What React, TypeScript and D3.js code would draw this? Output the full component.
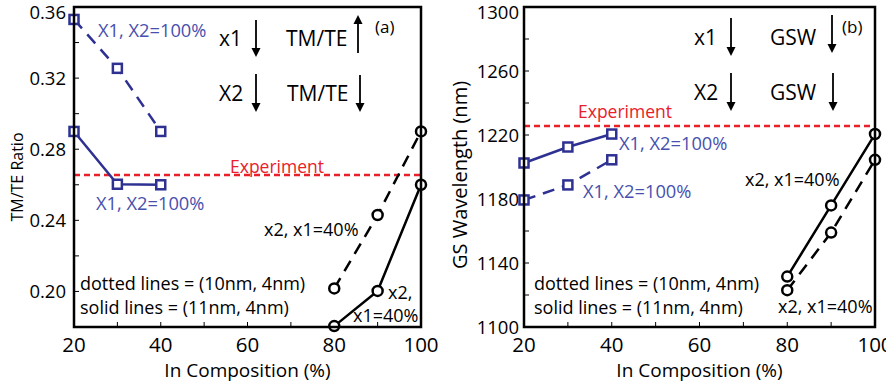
import React from "react";
import * as d3 from "d3";

const xValsLow = [20, 30, 40];
const xValsHigh = [80, 90, 100];

// Panel (a): TM/TE ratio
const aBlueDashed = [0.353, 0.3255, 0.29];
const aBlueSolid = [0.29, 0.2603, 0.26];
const aBlackDashed = [0.2017, 0.243, 0.29];
const aBlackSolid = [0.1805, 0.2003, 0.26];
const aExperiment = 0.2655;
const aYTicks = [0.2, 0.24, 0.28, 0.32, 0.36];
const aYMinor = [0.18, 0.22, 0.26, 0.3, 0.34];

// Panel (b): GS wavelength
const bBlueSolid = [1202.5, 1212.5, 1220.6];
const bBlueDashed = [1179.4, 1188.8, 1204.5];
const bBlackSolid = [1131.5, 1176, 1220.6];
const bBlackDashed = [1123, 1159, 1204.5];
const bExperiment = 1225.6;
const bYTicks = [1100, 1140, 1180, 1220, 1260, 1300];
const bYMinor = [1120, 1160, 1200, 1240, 1280];

const xTicks = [20, 40, 60, 80, 100];
const xMinor = [30, 50, 70, 90];

const BLUE = "#2e3192";
const BLUE_TEXT = "#4750ae";
const RED = "#e8202a";
const FONT = "'Open Sans', 'Noto Sans', sans-serif";

type Pt = [number, number];

function Arrow({ x, y1, y2 }: { x: number; y1: number; y2: number }) {
  const up = y2 < y1;
  const h = 9;
  const w = 4.5;
  const tipY = y2;
  const baseY = up ? y2 + h : y2 - h;
  return (
    <g>
      <line x1={x} y1={y1} x2={x} y2={baseY} stroke="#000" strokeWidth={1.8} />
      <path d={`M${x - w},${baseY} L${x},${tipY} L${x + w},${baseY} Z`} fill="#000" />
    </g>
  );
}

function Panel(props: {
  x0: number; x1: number; y0: number; y1: number;
  yDomain: [number, number];
  yTicks: number[]; yMinor: number[]; yFmt: (v: number) => string; yTickGap: number;
  blueSolid: number[]; blueDashed: number[]; blackSolid: number[]; blackDashed: number[];
  experiment: number;
  yLabel: string; yLabelX: number; yLabelY: number; yLabelSize: number;
  children?: React.ReactNode;
}) {
  const { x0, x1, y0, y1 } = props;
  const x = d3.scaleLinear().domain([20, 100]).range([x0, x1]);
  const y = d3.scaleLinear().domain(props.yDomain).range([y1, y0]);
  const line = d3.line<Pt>().x((d) => x(d[0])).y((d) => y(d[1]));
  const pts = (xs: number[], ys: number[]): Pt[] => xs.map((v, i) => [v, ys[i]]);
  const series = [
    { xs: xValsLow, ys: props.blueDashed, color: BLUE, dash: "12,8", shape: "sq" },
    { xs: xValsLow, ys: props.blueSolid, color: BLUE, dash: "none", shape: "sq" },
    { xs: xValsHigh, ys: props.blackDashed, color: "#000", dash: "12,8", shape: "ci" },
    { xs: xValsHigh, ys: props.blackSolid, color: "#000", dash: "none", shape: "ci" },
  ];
  return (
    <g>
      {props.yTicks.concat(props.yMinor).map((t) => (
        <line key={"yt" + t} x1={x0} x2={x0 + 5} y1={y(t)} y2={y(t)} stroke="#000" strokeWidth={1} />
      ))}
      {xTicks.concat(xMinor).map((t) => (
        <line key={"xt" + t} x1={x(t)} x2={x(t)} y1={y1} y2={y1 - 5} stroke="#000" strokeWidth={1} />
      ))}
      {props.yTicks.map((t) => (
        <text key={"yl" + t} x={x0 - props.yTickGap} y={Math.max(y(t), 12) + 6.5} textAnchor="end" fontSize={18.5} fontFamily={FONT}>
          {props.yFmt(t)}
        </text>
      ))}
      {xTicks.map((t) => (
        <text key={"xl" + t} x={x(t)} y={y1 + 25} textAnchor="middle" fontSize={20.5} fontFamily={FONT}>
          {t}
        </text>
      ))}
      <text x={(x0 + x1) / 2} y={y1 + 50} textAnchor="middle" fontSize={19} fontFamily={FONT}>
        In Composition (%)
      </text>
      <text
        transform={`translate(${props.yLabelX},${props.yLabelY}) rotate(-90)`}
        textAnchor="middle"
        fontSize={props.yLabelSize}
        fontFamily={FONT}
      >
        {props.yLabel}
      </text>
      <line x1={x0} x2={x1} y1={y(props.experiment)} y2={y(props.experiment)} stroke={RED} strokeWidth={2.5} strokeDasharray="6,4" />
      {series.map((s, i) => (
        <path key={"s" + i} d={line(pts(s.xs, s.ys)) || ""} fill="none" stroke={s.color} strokeWidth={2.5} strokeDasharray={s.dash} />
      ))}
      {series.map((s, i) =>
        pts(s.xs, s.ys).map((p, j) =>
          s.shape === "sq" ? (
            <rect key={"m" + i + "-" + j} x={x(p[0]) - 4.5} y={y(p[1]) - 4.5} width={9} height={9} fill="#fff" stroke={s.color} strokeWidth={2.5} />
          ) : (
            <circle key={"m" + i + "-" + j} cx={x(p[0])} cy={y(p[1])} r={5} fill="#fff" stroke={s.color} strokeWidth={2.5} />
          )
        )
      )}
      <rect x={x0} y={y0} width={x1 - x0} height={y1 - y0} fill="none" stroke="#000" strokeWidth={2.5} />
      {props.children}
    </g>
  );
}

export default function App() {
  const t = (x: number, yy: number, s: string, size: number, color = "#000", anchor = "start") => (
    <text x={x} y={yy} fontSize={size} fill={color} fontFamily={FONT} textAnchor={anchor as any}>
      {s}
    </text>
  );
  return (
    <svg width={886} height={390} style={{ position: "absolute", left: 0, top: 0, background: "#fff" }}>
      <rect width={886} height={390} fill="#fff" />
      <Panel
        x0={74} x1={421} y0={7} y1={327}
        yDomain={[0.18, 0.36]}
        yTicks={aYTicks} yMinor={aYMinor} yFmt={(v) => v.toFixed(2)} yTickGap={8}
        blueSolid={aBlueSolid} blueDashed={aBlueDashed} blackSolid={aBlackSolid} blackDashed={aBlackDashed}
        experiment={aExperiment}
        yLabel="TM/TE Ratio" yLabelX={23} yLabelY={177} yLabelSize={16}
      >
        {t(98, 36.5, "X1, X2=100%", 18.3, BLUE_TEXT)}
        {t(96, 209.5, "X1, X2=100%", 18.3, BLUE_TEXT)}
        {t(219, 46, "x1", 21)}
        {t(286, 46, "TM/TE", 21)}
        {t(219, 101, "X2", 21)}
        {t(287, 101, "TM/TE", 21)}
        {t(375, 33, "(a)", 17)}
        <Arrow x={256} y1={20} y2={57} />
        <Arrow x={358} y1={53} y2={15} />
        <Arrow x={256} y1={74} y2={112} />
        <Arrow x={360} y1={75} y2={112} />
        {t(230, 172.5, "Experiment", 17.5, RED)}
        {t(264, 236, "x2, x1=40%", 18)}
        {t(80, 290, "dotted lines = (10nm, 4nm)", 18)}
        {t(80, 314, "solid lines = (11nm, 4nm)", 18)}
        {t(388, 299, "x2,", 18)}
        {t(353, 322, "x1=40%", 18)}
      </Panel>
      <Panel
        x0={524} x1={875} y0={7} y1={327}
        yDomain={[1100, 1300]}
        yTicks={bYTicks} yMinor={bYMinor} yFmt={(v) => String(v)} yTickGap={5}
        blueSolid={bBlueSolid} blueDashed={bBlueDashed} blackSolid={bBlackSolid} blackDashed={bBlackDashed}
        experiment={bExperiment}
        yLabel="GS Wavelength (nm)" yLabelX={467} yLabelY={175} yLabelSize={20}
      >
        {t(694, 45, "x1", 21)}
        {t(770, 45, "GSW", 21)}
        {t(694, 100, "X2", 21)}
        {t(770, 100, "GSW", 21)}
        {t(842, 33, "(b)", 17)}
        <Arrow x={731} y1={18} y2={56} />
        <Arrow x={832} y1={15} y2={53} />
        <Arrow x={731} y1={73} y2={111} />
        <Arrow x={833} y1={73} y2={111} />
        {t(578, 117.5, "Experiment", 17.5, RED)}
        {t(619, 149.5, "X1, X2=100%", 18.3, BLUE_TEXT)}
        {t(583, 197.5, "X1, X2=100%", 18.3, BLUE_TEXT)}
        {t(745, 186, "x2, x1=40%", 18)}
        {t(534, 290, "dotted lines = (10nm, 4nm)", 18)}
        {t(534, 314, "solid lines = (11nm, 4nm)", 18)}
        {t(778, 313, "x2, x1=40%", 18)}
      </Panel>
    </svg>
  );
}
